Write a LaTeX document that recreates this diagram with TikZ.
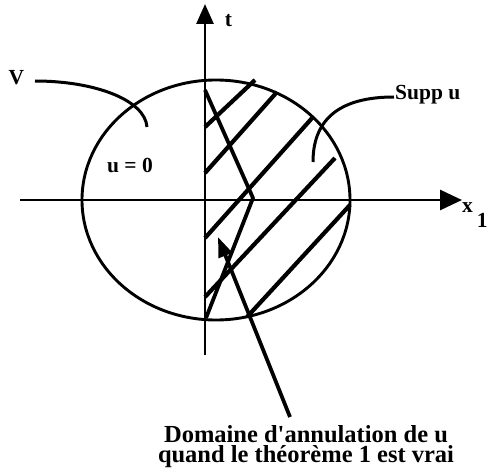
\documentclass[tikz,border=0pt]{standalone}
\usepackage{fontspec}
\setmainfont{Liberation Serif}
\usetikzlibrary{arrows.meta}
\begin{document}
\begin{tikzpicture}[x=1pt,y=-1pt,
  lbl/.style={font=\fontsize{21.5}{17}\selectfont\bfseries, inner sep=0pt},
  biglbl/.style={font=\fontsize{24.5}{20}\selectfont\bfseries, inner sep=0pt, align=center},
  axisline/.style={line width=2.9pt},
  hatchline/.style={line width=4.2pt},
  conline/.style={line width=3.8pt},
  curveline/.style={line width=3pt}]
\useasboundingbox (0,0) rectangle (488,476);
% coordinates
\coordinate (C) at (216,200);
\coordinate (tTop) at (205,4);
\coordinate (tBot) at (205,355);
\coordinate (xL) at (20,200);
\coordinate (xR) at (462,200);
% ellipse
\draw[axisline] (C) ellipse [x radius=134pt, y radius=120pt];
% hatch lines
\coordinate (h1a) at (205,127); \coordinate (h1b) at (255,80);
\coordinate (h2a) at (205,173); \coordinate (h2b) at (277,92);
\coordinate (h3a) at (205,238); \coordinate (h3b) at (313,117);
\coordinate (h4a) at (205,297); \coordinate (h4b) at (335,158);
\coordinate (h5a) at (247,317); \coordinate (h5b) at (350,205);
\draw[hatchline] (h1a) -- (h1b);
\draw[hatchline] (h2a) -- (h2b);
\draw[hatchline] (h3a) -- (h3b);
\draw[hatchline] (h4a) -- (h4b);
\draw[hatchline] (h5a) -- (h5b);
% cone
\coordinate (k1) at (205,90);
\coordinate (k2) at (253,198);
\coordinate (k3) at (206,318);
\draw[conline, line join=round] (k1) -- (k2) -- (k3);
% axes
\draw[axisline, -{Triangle[length=20pt,width=17pt]}] (tBot) -- (tTop);
\draw[axisline, -{Triangle[length=22pt,width=20pt]}] (xL) -- (xR);
% labels
\node[lbl] (V) at (16.5,77.5) {V};
\node[lbl] (tlab) at (228.5,21) {t};
\node[lbl] (u0) at (130,165) {u = 0};
\node[lbl, anchor=base west] (supp) at (395,100) {Supp u};
\node[lbl, anchor=base west] (x1) at (462,213) {x\hspace{4pt}\raisebox{-15pt}{1}};
\node[biglbl, anchor=base] (dom) at (306,462) {Domaine d\textquotesingle annulation de u\\quand le théorème 1 est vrai};
% leader curves
\coordinate (Vs) at (35,81);
\coordinate (Ve) at (147,127);
\draw[curveline] (Vs) .. controls (95,81) and (145,100) .. (Ve);
\coordinate (Ss) at (394,97);
\coordinate (Se) at (313,162);
\draw[curveline] (Ss) .. controls (345,97) and (313,115) .. (Se);
% arrow to domain
\coordinate (At) at (290,417);
\coordinate (Ah) at (218,237);
\draw[conline, -{Triangle[length=20pt,width=14pt]}] (At) -- (Ah);
\end{tikzpicture}
\end{document}
